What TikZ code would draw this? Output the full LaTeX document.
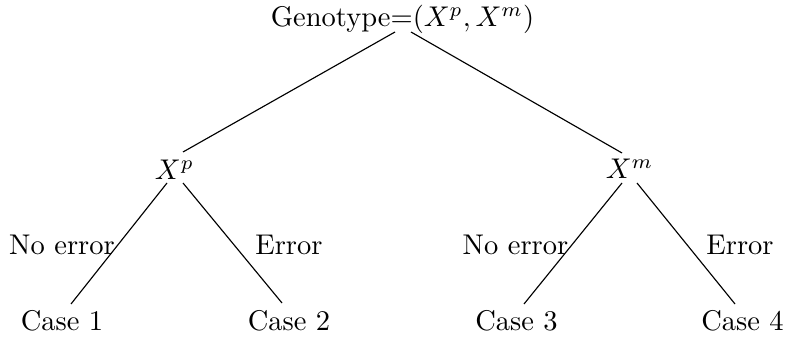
\documentclass[tikz,border=0pt]{standalone}
\usetikzlibrary{calc}
\begin{document}
\begin{tikzpicture}[x=0.3509pt,y=-0.3509pt,
  lbl/.style={anchor=base,inner sep=0pt},
  edge/.style={draw=black,line width=0.4pt}]
\useasboundingbox (0,0) rectangle (787,341);
% nodes
\node[lbl] (root) at (402.5,27) {Genotype=$(X^p,X^m)$};
\node[lbl] (xp) at (174.5,180) {$X^p$};
\node[lbl] (xm) at (629.5,179) {$X^m$};
\node[lbl] (c1) at (62,330) {Case 1};
\node[lbl] (c2) at (289,330) {Case 2};
\node[lbl] (c3) at (516.5,330) {Case 3};
\node[lbl] (c4) at (742.5,330) {Case 4};
\node[lbl] (l1) at (62,255) {No error};
\node[lbl] (l2) at (289,255) {Error};
\node[lbl] (l3) at (515.5,255) {No error};
\node[lbl] (l4) at (740,255) {Error};
% connectors
\draw[edge] ($(root.base)+(-7.5,5)$) -- ($(xp.base)+(8.5,-28)$);
\draw[edge] ($(root.base)+(8.5,5)$) -- ($(xm.base)+(-7.5,-26)$);
\draw[edge] ($(xp.base)+(-7.5,3)$) -- ($(c1.base)+(9,-26)$);
\draw[edge] ($(xp.base)+(8.5,3)$) -- ($(c2.base)+(-7,-27)$);
\draw[edge] ($(xm.base)+(-7.5,4)$) -- ($(c3.base)+(7.5,-26)$);
\draw[edge] ($(xm.base)+(7.5,4)$) -- ($(c4.base)+(-7.5,-26)$);
\end{tikzpicture}
\end{document}
